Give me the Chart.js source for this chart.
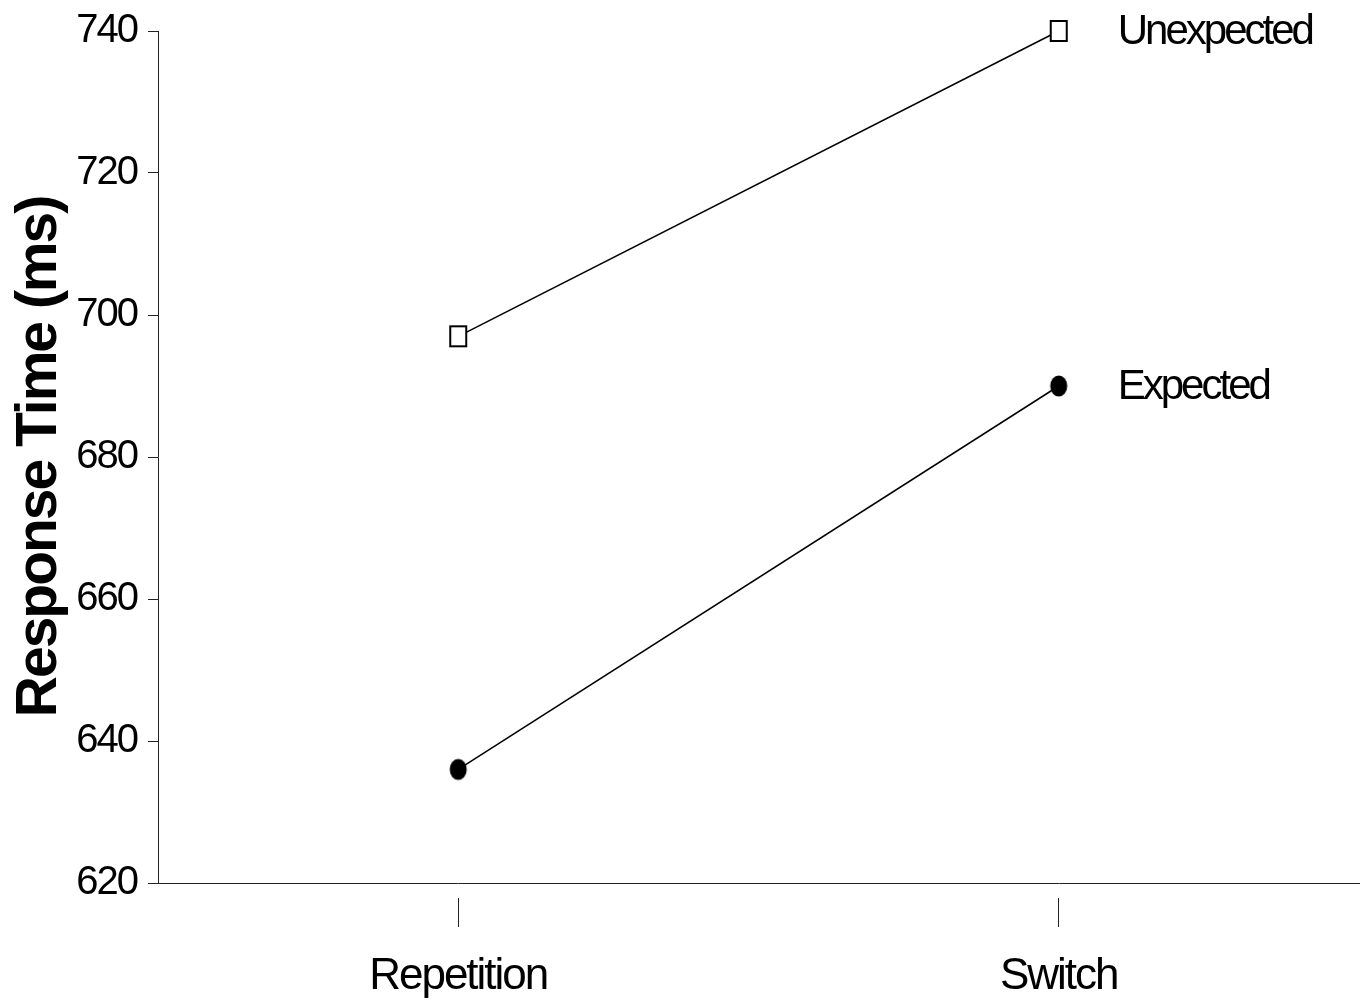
<!DOCTYPE html>
<html>
<head>
<meta charset="utf-8">
<script src="https://cdn.jsdelivr.net/npm/chart.js@4.4.1/dist/chart.umd.min.js"></script>
<style>
    html, body { margin: 0; padding: 0; background: #fff; }
    #wrap { width: 1367px; height: 1005px; position: relative; }
</style>
</head>
<body>
<div id="wrap"><canvas id="chart-rt"></canvas></div>
<script>
// datos
const categorias = ['Repetition', 'Switch'];
const inesperado = [697, 740];
const esperado = [636, 690];
const yMin = 620;
const yMax = 740;
const yPaso = 20;

// marcadores: rectangulo abierto y elipse rellena (mas altos que anchos)
function marcaRect() {
    const c = document.createElement('canvas');
    c.width = 20; c.height = 24;
    const g = c.getContext('2d');
    g.fillStyle = '#fff';
    g.fillRect(2, 2, 16, 20);
    g.strokeStyle = '#000';
    g.lineWidth = 2;
    g.strokeRect(2, 2, 16, 20);
    return c;
}

function marcaElipse() {
    const c = document.createElement('canvas');
    c.width = 20; c.height = 24;
    const g = c.getContext('2d');
    g.fillStyle = '#000';
    g.beginPath();
    g.ellipse(10, 12, 8.5, 10.5, 0, 0, Math.PI * 2);
    g.fill();
    return c;
}

// letras apretadas como en la figura original
const espaciado = {
    id: 'espaciado',
    beforeLayout(chart) { chart.ctx.letterSpacing = '-2px'; },
    beforeDraw(chart) { chart.ctx.letterSpacing = '-2px'; }
};

// nombre de cada serie a la derecha de su ultimo punto
const etiquetas = {
    id: 'etiquetas',
    afterDatasetsDraw(chart) {
        const ctx = chart.ctx;
        const x = chart.scales.x;
        const y = chart.scales.y;
        ctx.save();
        ctx.letterSpacing = '-3px';
        ctx.font = '42px "Liberation Sans", Arial, sans-serif';
        ctx.fillStyle = '#000';
        ctx.textAlign = 'left';
        ctx.textBaseline = 'middle';
        chart.data.datasets.forEach(ds => {
            const ultimo = ds.data.length - 1;
            const px = x.getPixelForValue(ultimo) + 59;
            const py = y.getPixelForValue(ds.data[ultimo]) + 1;
            ctx.fillText(ds.label, px, py);
        });
        ctx.restore();
    }
};

new Chart(document.getElementById('chart-rt'), {
    type: 'line',
    data: {
        labels: categorias,
        datasets: [{
            label: 'Unexpected',
            data: inesperado,
            borderColor: '#000',
            borderWidth: 1.5,
            pointStyle: marcaRect(),
            clip: false
        }, {
            label: 'Expected',
            data: esperado,
            borderColor: '#000',
            borderWidth: 1.5,
            pointStyle: marcaElipse(),
            clip: false
        }]
    },
    options: {
        responsive: true,
        maintainAspectRatio: false,
        animation: false,
        layout: { padding: { left: 0, right: 8, top: 31, bottom: 0 } },
        plugins: { legend: { display: false }, tooltip: { enabled: false } },
        scales: {
            x: {
                offset: true,
                afterFit: s => { s.height = 122; },
                border: { display: true, color: '#222', width: 1 },
                grid: {
                    drawOnChartArea: false,
                    drawTicks: true,
                    tickLength: 44,
                    tickColor: '#222',
                    tickWidth: 1,
                    tickBorderDash: [30, 14],
                    tickBorderDashOffset: 30
                },
                ticks: {
                    color: '#000',
                    padding: 23,
                    font: { family: '"Liberation Sans", Arial, sans-serif', size: 44 }
                }
            },
            y: {
                min: yMin,
                max: yMax,
                afterFit: s => {
                    s.width = 158;
                    s.paddingTop = 0;
                    s.paddingBottom = 0;
                },
                border: { display: true, color: '#222', width: 1 },
                grid: {
                    drawOnChartArea: false,
                    drawTicks: true,
                    tickLength: 10,
                    tickColor: '#222'
                },
                ticks: {
                    stepSize: yPaso,
                    color: '#000',
                    padding: 11,
                    font: { family: '"Liberation Sans", Arial, sans-serif', size: 40 }
                },
                title: {
                    display: true,
                    text: 'Response Time (ms)',
                    color: '#000',
                    padding: { top: 6, bottom: 0 },
                    font: { family: '"Liberation Sans", Arial, sans-serif', size: 57, weight: 'bold' }
                }
            }
        }
    },
    plugins: [espaciado, etiquetas]
});
</script>
</body>
</html>
